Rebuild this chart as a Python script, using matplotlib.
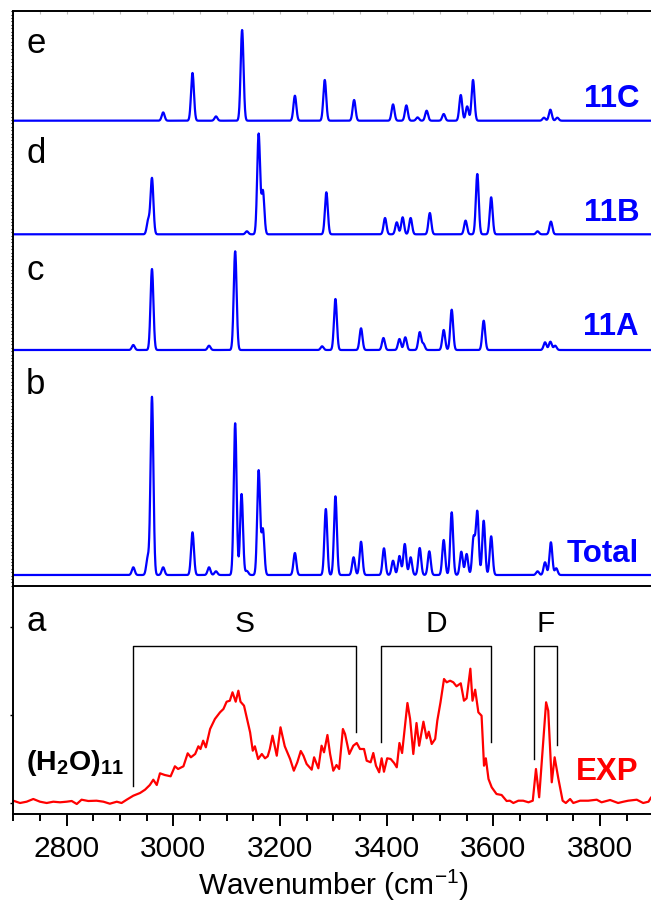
import numpy as np
import matplotlib
matplotlib.use("Agg")
import matplotlib.pyplot as plt

plt.rcParams["font.family"] = ["Liberation Sans", "DejaVu Sans"]
plt.rcParams["mathtext.fontset"] = "custom"
plt.rcParams["mathtext.rm"] = "Liberation Sans"
plt.rcParams["mathtext.bf"] = "Liberation Sans:bold"

# calculated spectra: peak positions (cm-1) and peak heights (arb. units)
c11_pos = [2981, 3036, 3080, 3129, 3228, 3284, 3339, 3412, 3437, 3458, 3475,
           3507, 3539, 3551, 3562, 3695, 3707, 3720]
c11_int = [8.3, 47.7, 4.3, 90.7, 25, 40.7, 20.7, 16.3, 15.3, 3.3, 10,
           6.7, 25.7, 14.3, 40.7, 3, 11, 3]

b11_pos = [2953, 2960, 3138, 3160, 3168, 3287, 3397, 3419, 3430, 3445, 3481,
           3548, 3570, 3596, 3683, 3708]
b11_int = [14, 56, 3, 100.3, 43, 42, 16.3, 12, 17, 16.3, 21.3,
           13.7, 60.3, 37, 3, 12.7]

a11_pos = [2925, 2960, 3067, 3116, 3279, 3304, 3352, 3394, 3424, 3435, 3462,
           3469, 3507, 3522, 3582, 3697, 3707, 3716]
a11_int = [5, 81, 4.3, 98.7, 3.7, 51, 21.7, 12, 11, 12.7, 17.7,
           6, 20, 40.3, 29.3, 7.7, 8.3, 4.3]

tot_pos = [2925, 2952, 2960, 2981, 3036, 3067, 3080, 3116, 3128, 3138, 3160,
           3168, 3228, 3286, 3304, 3338, 3352, 3395, 3412, 3424, 3434, 3445,
           3462, 3480, 3507, 3522, 3540, 3550, 3563, 3570, 3582, 3596, 3683,
           3697, 3708, 3718]
tot_int = [7.7, 17, 178, 7.7, 42.7, 7.7, 3.7, 151.7, 81, 4, 104.3,
           45.3, 22, 66, 78.7, 17.7, 33.3, 26.7, 14.3, 19, 31, 17.7,
           27, 23.7, 35, 62.7, 23.3, 21, 37, 63, 54.3, 38.7, 3.7,
           12.7, 32.7, 6.7]

exp_wn = [2700, 2712.6, 2725, 2737.5, 2750, 2762.6, 2775, 2787.6, 2800, 2809.5,
          2819, 2828, 2840.6, 2856, 2869, 2881, 2894, 2903, 2912.6, 2918,
          2925, 2937.6, 2947, 2956, 2962.5, 2969, 2975, 2984, 2995, 3003,
          3009, 3019, 3027, 3033, 3041, 3047, 3051, 3056, 3061, 3069,
          3078, 3087.6, 3094, 3100, 3106, 3111, 3117, 3122, 3126, 3132.6,
          3137.6, 3144, 3149, 3153, 3159, 3166, 3172, 3177, 3181, 3186,
          3194, 3201, 3209, 3219, 3226, 3232.5, 3239, 3244, 3250, 3259.5,
          3264, 3272, 3278, 3282.6, 3289, 3294, 3300, 3306, 3311, 3318,
          3322, 3330, 3337.5, 3344, 3350, 3357.6, 3362.6, 3370, 3375, 3380,
          3386, 3390.6, 3395, 3401, 3407.6, 3414, 3419, 3424, 3429, 3439,
          3444, 3450, 3456, 3461, 3469, 3475, 3479, 3484.5, 3491, 3495,
          3501, 3507.6, 3512.6, 3519, 3525, 3531, 3539, 3545, 3550, 3557,
          3561, 3566, 3572, 3578, 3582.6, 3586, 3591, 3597, 3606, 3615.6,
          3625, 3631, 3637.6, 3647, 3656, 3666, 3674, 3680, 3686, 3693,
          3699, 3703, 3709.6, 3715, 3722, 3730, 3736, 3744, 3750, 3762.6,
          3778, 3794, 3803, 3819, 3834, 3844, 3853, 3869, 3881, 3891,
          3896, 3900]
exp_int = [12.8, 10.5, 11.8, 14.5, 11.8, 10.5, 11.8, 11.2, 11.8, 12.5,
           9.5, 13.8, 12.5, 12.8, 11.8, 9.8, 11.8, 10.5, 13.8, 15.5,
           17.8, 20.5, 23.8, 28.5, 33.8, 28.5, 40.2, 38.5, 37.2, 47.2,
           44.5, 47.2, 60.2, 56.2, 59.5, 67.2, 64.5, 72.8, 66.2, 84.5,
           94.5, 101.2, 104.5, 111.8, 112.8, 121.2, 111.8, 122.8, 111.8, 107.8,
           96.2, 81.2, 62.8, 67.2, 54.5, 59.5, 55.2, 57.2, 64.5, 77.8,
           57.8, 86.2, 67.2, 54.5, 42.8, 51.2, 62.5, 57.8, 49.5, 43.8,
           56.2, 45.2, 67.8, 61.2, 78.5, 59.5, 42.8, 48.5, 44.5, 84.5,
           79.5, 59.5, 67.8, 70.5, 64.5, 64.5, 52.8, 51.2, 60.5, 47.8,
           41.2, 55.2, 41.8, 55.2, 54.5, 50.5, 46.2, 70.5, 60.5, 110.5,
           94.5, 59.5, 90.5, 67.8, 91.8, 75.2, 81.8, 69.5, 74.5, 92.8,
           111.2, 134.5, 131.2, 132.8, 131.2, 127.2, 130.2, 112.8, 115.2, 144.8,
           112.8, 123.8, 101.2, 97.8, 47.8, 55.2, 34.5, 26.2, 19.5, 18.5,
           12.5, 12.8, 10.5, 12.8, 12.8, 11.2, 12.8, 44.5, 16.2, 67.8,
           111.2, 102.8, 31.2, 56.2, 34.8, 12.8, 10.5, 14.5, 10.5, 12.8,
           12.8, 13.8, 11.2, 13.5, 10.5, 11.8, 12.8, 13.8, 10.5, 11.8,
           16.2, 17]

# brackets: (left, right, label, left leg bottom, right leg bottom)
brackets = [(2924.5, 3343, "S", 27.5, 81.2),
            (3389, 3596, "D", 71.2, 71.2),
            (3677, 3719, "F", 54.5, 68.5)]


def broaden(pos, inten, x, sigma=2.7):
    y = np.zeros_like(x)
    for p, h in zip(pos, inten):
        y += h * np.exp(-0.5 * ((x - p) / sigma) ** 2)
    return y


W, H = 651, 904
fig = plt.figure(figsize=(W / 100, H / 100), dpi=100)
ax_top = fig.add_axes([13.3 / W, 1 - 586.7 / H, 640 / W, (586.7 - 12) / H])
ax_bot = fig.add_axes([13.3 / W, 1 - 814.5 / H, 640 / W, (814.5 - 586.7) / H])

x = np.linspace(2700, 3900, 4801)
blue = "#0000ff"
red = "#ff0000"
lw = 1.6

for pos, inten, off in [(c11_pos, c11_int, 465.0), (b11_pos, b11_int, 351.4),
                        (a11_pos, a11_int, 235.7), (tot_pos, tot_int, 10.7)]:
    ax_top.plot(x, broaden(pos, inten, x) + off, color=blue, lw=lw)

ax_bot.plot(exp_wn, exp_int, color=red, lw=lw)

top_bar = 167.8
for left, right, lab, hl, hr in brackets:
    ax_bot.plot([left, left, right, right], [hl, top_bar, top_bar, hr],
                color="black", lw=1.0)
    ax_bot.text((left + right) / 2, 190, lab, ha="center", va="center",
                fontsize=21.5)

for ax in (ax_top, ax_bot):
    ax.set_xlim(2700, 3900)
    ax.spines["right"].set_visible(False)
    for s in ax.spines.values():
        s.set_linewidth(1.4)

ax_top.set_ylim(0, 574.7)
ax_bot.set_ylim(0, 227.8)

ax_top.spines["bottom"].set_visible(False)
ax_top.set_xticks(np.arange(2700, 3901, 50))
ax_top.tick_params(axis="x", which="both", bottom=False, top=True,
                   labelbottom=False, direction="in", length=2,
                   color="#bbbbbb", width=0.8)
ax_top.set_yticks(np.arange(0, 575, 3.4))
ax_top.tick_params(axis="y", which="both", direction="out", length=1.5,
                   width=0.8, labelleft=False)

ax_bot.set_xticks(np.arange(2800, 3801, 200))
ax_bot.set_xticks(np.arange(2700, 3901, 50), minor=True)
ax_bot.tick_params(axis="x", which="major", direction="out", length=8.5,
                   width=1.4, labelsize=21.5, pad=6)
ax_bot.tick_params(axis="x", which="minor", direction="out", length=5,
                   width=1.4)
ax_bot.set_yticks([10.5, 98.5, 186.5])
ax_bot.tick_params(axis="y", direction="out", length=2.5, width=1,
                   labelleft=False)
ax_bot.set_xlabel("Wavenumber (cm$^{-1}$)", fontsize=21.5, labelpad=3)

# panel letters and trace labels (pixel positions in the figure)
def ft(px, py, s, **kw):
    fig.text(px / W, 1 - py / H, s, va="baseline", **kw)

for lab, py in [("e", 53), ("d", 163), ("c", 280), ("b", 394), ("a", 631)]:
    ft(26, py, lab, fontsize=25)

for lab, py, col in [("11C", 106.7, blue), ("11B", 220.7, blue),
                     ("11A", 335, blue), ("Total", 561.7, blue),
                     ("EXP", 780, red)]:
    ft(639, py, lab, fontsize=22.5, fontweight="bold", color=col, ha="right")

ft(26, 770, r"$\mathbf{(H_2O)_{11}}$", fontsize=20.5)

fig.savefig("out.png", dpi=100)
